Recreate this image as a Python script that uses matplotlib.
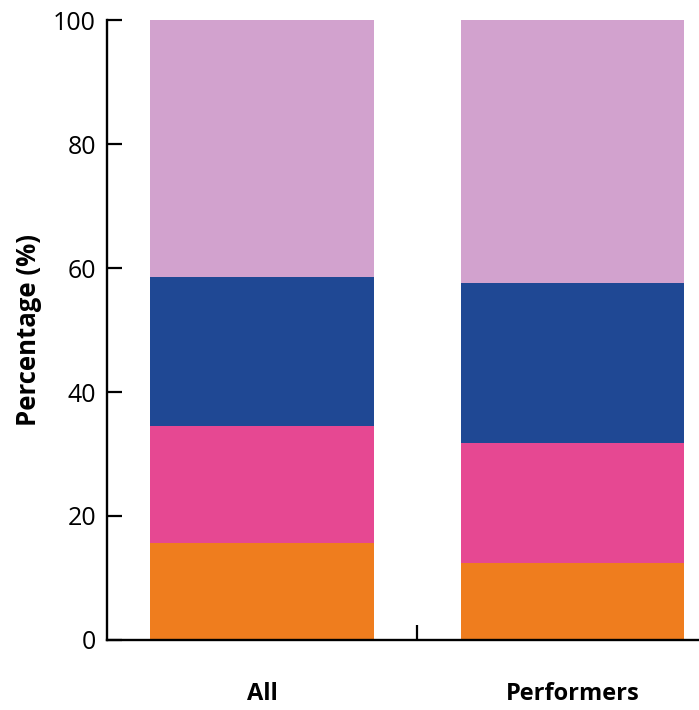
import numpy as np
import matplotlib.pyplot as plt
from matplotlib.ticker import FixedLocator

plt.rcParams['font.family'] = ['Open Sans', 'DejaVu Sans']

# categories and stacked segment shares (%)
categories = ['All', 'Performers']
seg1 = [15.7, 12.4]   # orange
seg2 = [18.8, 19.3]   # pink
seg3 = [24.0, 25.9]   # blue
seg4 = [41.5, 42.4]   # lilac
colors = ['#EF7D1E', '#E64892', '#1F4894', '#D2A2CE']

fig = plt.figure(figsize=(6.99, 7.10), dpi=100)
ax = fig.add_axes([0.1531, 0.0986, 0.8877, 0.8732])

x = np.arange(len(categories))
bottom = np.zeros(len(categories))
for seg, c in zip([seg1, seg2, seg3, seg4], colors):
    ax.bar(x, seg, width=0.72, bottom=bottom, color=c, linewidth=0)
    bottom += np.array(seg)

ax.set_xlim(-0.5, 1.5)
ax.set_ylim(0, 100)
ax.set_yticks([0, 20, 40, 60, 80, 100])
ax.set_xticks(x)
ax.set_xticklabels(categories, fontweight='bold', fontsize=17)
ax.xaxis.set_minor_locator(FixedLocator([0.5]))

ax.tick_params(axis='y', direction='in', length=11, width=1.6, labelsize=18, pad=8)
ax.tick_params(axis='x', which='major', length=0, pad=30)
ax.tick_params(axis='x', which='minor', direction='in', length=11, width=1.6)

ax.set_ylabel('Percentage (%)', fontweight='bold', fontsize=18.5, labelpad=8)

for s in ['top', 'right']:
    ax.spines[s].set_visible(False)
for s in ['left', 'bottom']:
    ax.spines[s].set_linewidth(1.7)

fig.savefig('out.png', dpi=100)
